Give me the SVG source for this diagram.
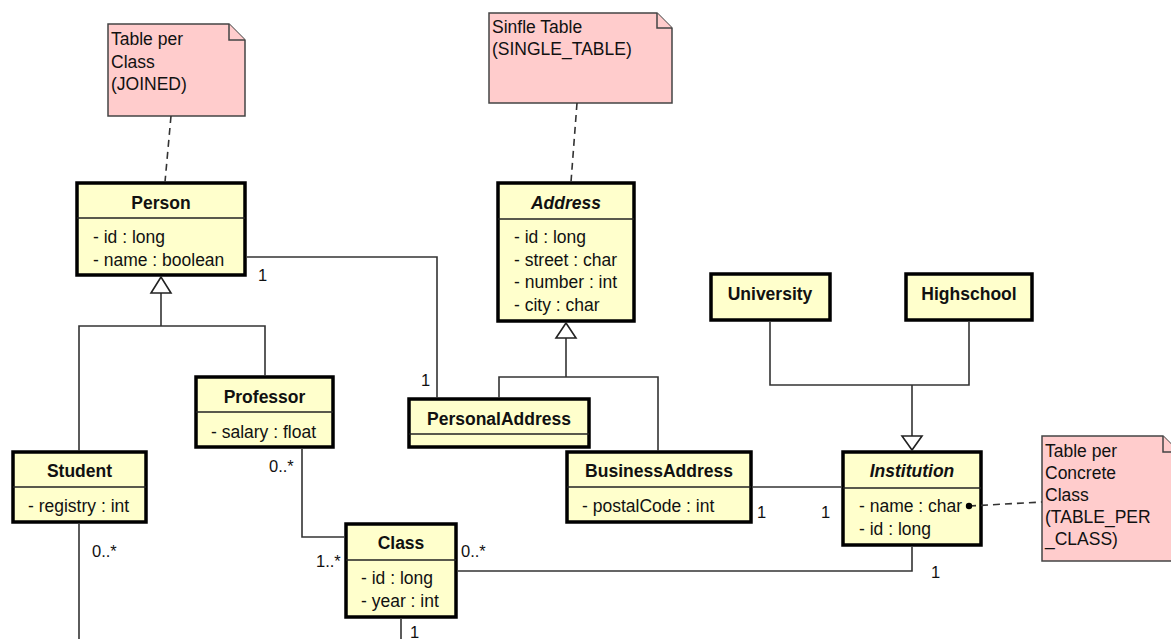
<svg xmlns="http://www.w3.org/2000/svg" width="1171" height="639" viewBox="0 0 1171 639">
  <style>
    text { font-family: "Liberation Sans", Arial, sans-serif; font-size: 17.5px; fill: #111; }
    .box { fill: #ffffcc; stroke: #000; stroke-width: 3.5; }
    .div { stroke: #222; stroke-width: 1.5; }
    .title { font-weight: bold; text-anchor: middle; }
    .abstract { font-style: italic; }
    .note { fill: #ffcccc; stroke: #444; stroke-width: 1.5; }
    .fold { fill: #ffcccc; stroke: #444; stroke-width: 1.5; }
    .line { fill: none; stroke: #333; stroke-width: 1.6; }
    .dash { fill: none; stroke: #333; stroke-width: 1.6; stroke-dasharray: 7 5; }
    .tri { fill: #fff; stroke: #222; stroke-width: 1.6; }
    .mult { font-size: 16.5px; }
  </style>

  <!-- Notes -->
  <g id="note-joined">
    <path class="note" d="M108 24 H229 L245 40 V116 H108 Z"/>
    <path class="fold" d="M229 24 V40 H245"/>
    <text x="111" y="45">Table per</text>
    <text x="111" y="68">Class</text>
    <text x="111" y="90">(JOINED)</text>
  </g>
  <g id="note-single">
    <path class="note" d="M489 13 H657 L672 28 V103 H489 Z"/>
    <path class="fold" d="M657 13 V28 H672"/>
    <text x="492" y="33">Sinfle Table</text>
    <text x="492" y="55">(SINGLE_TABLE)</text>
  </g>
  <g id="note-concrete">
    <path class="note" d="M1042 436 H1163 L1179 452 V561 H1042 Z"/>
    <path class="fold" d="M1163 436 V452 H1179"/>
    <text x="1045" y="457">Table per</text>
    <text x="1045" y="479">Concrete</text>
    <text x="1045" y="501">Class</text>
    <text x="1045" y="523">(TABLE_PER</text>
    <text x="1045" y="545">_CLASS)</text>
  </g>

  <!-- Classes -->
  <g id="person">
    <rect class="box" x="77" y="183" width="168" height="92"/>
    <line class="div" x1="77" y1="218" x2="245" y2="218"/>
    <text class="title" x="161" y="209">Person</text>
    <text x="93" y="243">- id : long</text>
    <text x="93" y="266">- name : boolean</text>
  </g>
  <g id="address">
    <rect class="box" x="498" y="183" width="136" height="138"/>
    <line class="div" x1="498" y1="219" x2="634" y2="219"/>
    <text class="title abstract" x="566" y="209">Address</text>
    <text x="514" y="243">- id : long</text>
    <text x="514" y="266">- street : char</text>
    <text x="514" y="288">- number : int</text>
    <text x="514" y="311">- city : char</text>
  </g>
  <g id="university">
    <rect class="box" x="711" y="274" width="119" height="46"/>
    <text class="title" x="770" y="300">University</text>
  </g>
  <g id="highschool">
    <rect class="box" x="906" y="274" width="126" height="46"/>
    <text class="title" x="969" y="300">Highschool</text>
  </g>
  <g id="professor">
    <rect class="box" x="196" y="377" width="137" height="70"/>
    <line class="div" x1="196" y1="412" x2="333" y2="412"/>
    <text class="title" x="264.5" y="403">Professor</text>
    <text x="211" y="438">- salary : float</text>
  </g>
  <g id="personal-address">
    <rect class="box" x="409" y="399" width="180" height="48"/>
    <line class="div" x1="409" y1="434" x2="589" y2="434"/>
    <text class="title" x="499" y="425">PersonalAddress</text>
  </g>
  <g id="student">
    <rect class="box" x="13" y="452" width="133" height="70"/>
    <line class="div" x1="13" y1="487" x2="146" y2="487"/>
    <text class="title" x="79.5" y="477">Student</text>
    <text x="28" y="512">- registry : int</text>
  </g>
  <g id="business-address">
    <rect class="box" x="567" y="452" width="184" height="70"/>
    <line class="div" x1="567" y1="487" x2="751" y2="487"/>
    <text class="title" x="659" y="477">BusinessAddress</text>
    <text x="582" y="512">- postalCode : int</text>
  </g>
  <g id="institution">
    <rect class="box" x="843" y="452" width="138" height="93"/>
    <line class="div" x1="843" y1="488" x2="981" y2="488"/>
    <text class="title abstract" x="912" y="477">Institution</text>
    <text x="859" y="512">- name : char</text>
    <text x="859" y="535">- id : long</text>
  </g>
  <g id="class">
    <rect class="box" x="346" y="524" width="110" height="93"/>
    <line class="div" x1="346" y1="560" x2="456" y2="560"/>
    <text class="title" x="401" y="549">Class</text>
    <text x="361" y="584">- id : long</text>
    <text x="361" y="607">- year : int</text>
  </g>

  <!-- Connectors -->
  <g id="connectors">
    <!-- note anchors -->
    <line class="dash" x1="171" y1="116" x2="165" y2="182"/>
    <line class="dash" x1="577" y1="103" x2="571" y2="182"/>
    <line class="dash" x1="969" y1="506" x2="1042" y2="502"/>
    <circle cx="969" cy="506" r="3.2" fill="#000"/>

    <!-- Person hierarchy -->
    <polyline class="line" points="79,451 79,326 265,326 265,376"/>
    <line class="line" x1="161" y1="326" x2="161" y2="293"/>
    <polygon class="tri" points="161,277 151,293 171,293"/>

    <!-- Address hierarchy -->
    <polyline class="line" points="499,398 499,377 658,377 658,451"/>
    <line class="line" x1="566" y1="377" x2="566" y2="338"/>
    <polygon class="tri" points="566,323 556,338 576,338"/>

    <!-- Institution hierarchy -->
    <polyline class="line" points="770,322 770,385 969,385 969,322"/>
    <line class="line" x1="912" y1="385" x2="912" y2="436"/>
    <polygon class="tri" points="912,450 902,436 922,436"/>

    <!-- Associations -->
    <polyline class="line" points="247,257 437,257 437,398"/>
    <polyline class="line" points="302,449 302,537 344,537"/>
    <line class="line" x1="753" y1="487" x2="841" y2="487"/>
    <polyline class="line" points="458,571 912,571 912,547"/>
    <line class="line" x1="79" y1="524" x2="79" y2="639"/>
    <line class="line" x1="401" y1="619" x2="401" y2="639"/>

    <!-- Multiplicities -->
    <text class="mult" x="258" y="281">1</text>
    <text class="mult" x="421" y="386">1</text>
    <text class="mult" x="269" y="472">0..*</text>
    <text class="mult" x="316" y="567">1..*</text>
    <text class="mult" x="92" y="557">0..*</text>
    <text class="mult" x="461" y="557">0..*</text>
    <text class="mult" x="410" y="638">1</text>
    <text class="mult" x="757" y="518">1</text>
    <text class="mult" x="821" y="518">1</text>
    <text class="mult" x="931" y="578">1</text>
  </g>
</svg>
